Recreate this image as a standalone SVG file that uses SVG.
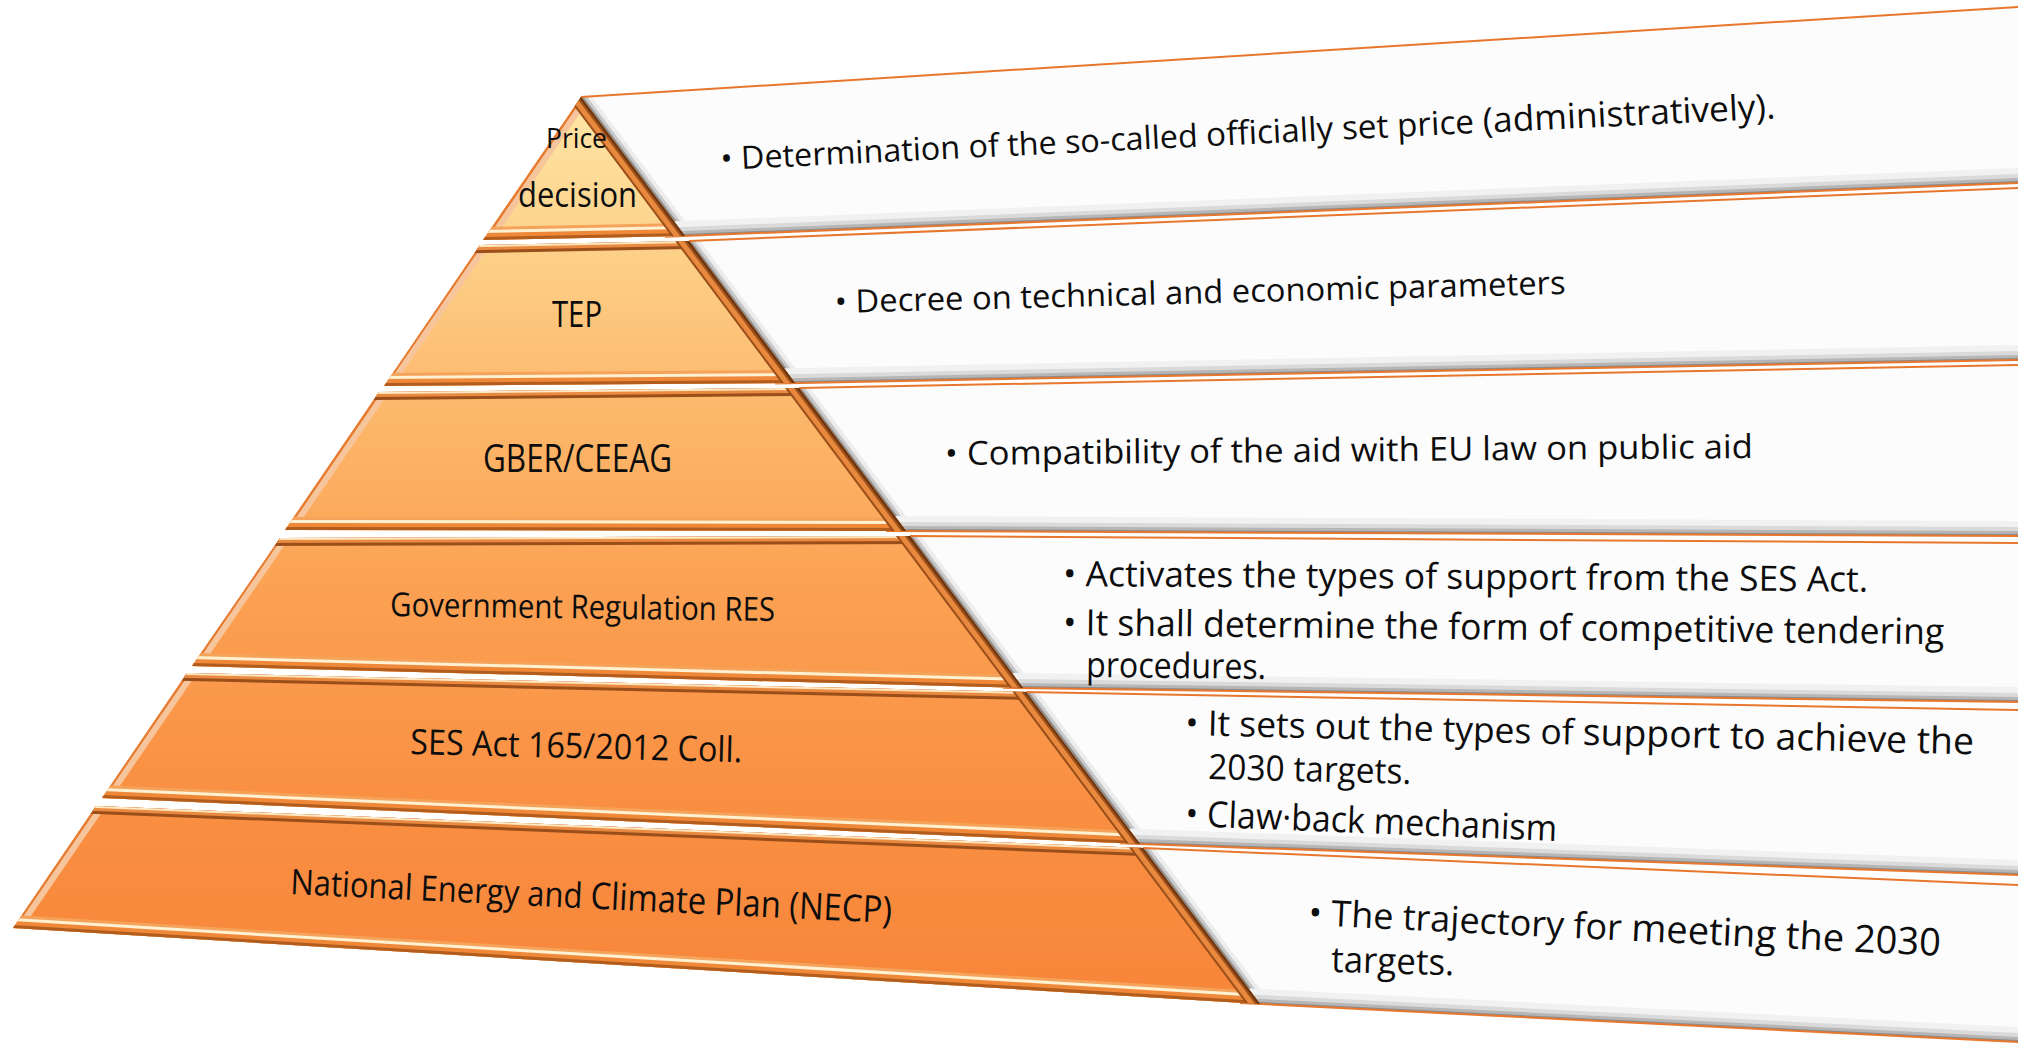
<svg xmlns="http://www.w3.org/2000/svg" width="2018" height="1051" viewBox="0 0 2018 1051">
<style>
text{font-family:"Open Sans","Noto Sans","DejaVu Sans",sans-serif;fill:#0d0d0d}
.face{fill:url(#pg)}
.box{fill:#fcfcfc}
.ol{fill:none;stroke:#e8772e;stroke-width:2}
.s1,.s2,.s3,.s4,.g1,.g2,.g3,.r1,.r2,.r3,.r4,.l1,.l2,.b1,.b2,.b3,.b4,.t1,.t2,.t3{fill:none}
.s1{stroke:#f1f1f1;stroke-width:30}
.s2{stroke:#dadada;stroke-width:18}
.s3{stroke:#b6b6b6;stroke-width:10}
.s4{stroke:#8c8c8c;stroke-width:4}
.g1{stroke:#ededed;stroke-width:18}
.g2{stroke:#c8c8c8;stroke-width:10}
.g3{stroke:#8f8f8f;stroke-width:4}
.r1{stroke:#9a4e1a;stroke-width:22}
.r2{stroke:#e8893e;stroke-width:18}
.r3{stroke:#a0531c;stroke-width:8}
.r4{stroke:#6b3510;stroke-width:4}
.l1{stroke:#f6c59b;stroke-width:16}
.l2{stroke:#e57a30;stroke-width:4}
.b1{stroke:#f5a35a;stroke-width:26}
.b2{stroke:#fff1d2;stroke-width:20}
.b3{stroke:#ef8838;stroke-width:14}
.b4{stroke:#b25c1d;stroke-width:6}
.t1{stroke:#9a4e1a;stroke-width:16}
.t2{stroke:#ea8a40;stroke-width:10}
.t3{stroke:#ffe9c4;stroke-width:4}
</style>
<defs>
<linearGradient id="pg" gradientUnits="userSpaceOnUse" x1="0" y1="97" x2="0" y2="1004">
<stop offset="0" stop-color="#ffe6a6"/>
<stop offset="0.15" stop-color="#fdd38c"/>
<stop offset="0.35" stop-color="#fcb76a"/>
<stop offset="0.55" stop-color="#fba052"/>
<stop offset="0.78" stop-color="#f98f42"/>
<stop offset="1" stop-color="#f7853a"/>
</linearGradient>
<path id="re" d="M566,77 L1275,1024"/>
<path id="le" d="M595,77 L0,947"/>
<clipPath id="c1"><polygon points="581,97 685,236 483,240"/></clipPath>
<clipPath id="c2"><polygon points="480,245 689,241 795,383 384,386"/></clipPath>
<clipPath id="c3"><polygon points="379,392 799,388 906,531 285,530"/></clipPath>
<clipPath id="c4"><polygon points="280,538 910,536 1023,688 192,666"/></clipPath>
<clipPath id="c5"><polygon points="187,673 1026,692 1140,844 102,798"/></clipPath>
<clipPath id="c6"><polygon points="96,806 1143,848 1260,1004 13,928"/></clipPath>
<clipPath id="k1"><polygon points="581,97 2030,6.2 2030,182.5 685,236"/></clipPath>
<clipPath id="k2"><polygon points="689,241 2030,187.5 2030,359.8 795,383"/></clipPath>
<clipPath id="k3"><polygon points="799,388 2030,364.8 2030,536.1 906,531"/></clipPath>
<clipPath id="k4"><polygon points="910,536 2030,543.1 2030,702.2 1023,688"/></clipPath>
<clipPath id="k5"><polygon points="1026,692 2030,710.2 2030,875.4 1140,844"/></clipPath>
<clipPath id="k6"><polygon points="1143,848 2030,885.5 2030,1042.6 1260,1004"/></clipPath>
<path id="bb1" d="M665,236.8 L2030,182.5"/>
<path id="bb2" d="M775,383.4 L2030,359.8"/>
<path id="bb3" d="M886,530.9 L2030,536.1"/>
<path id="bb4" d="M1003,687.7 L2030,702.2"/>
<path id="bb5" d="M1120,843.3 L2030,875.4"/>
<path id="bb6" d="M1240,1003 L2030,1042.6"/>
</defs>

<rect width="2018" height="1051" fill="#ffffff"/>

<!-- Text boxes -->
<g id="box-1">
<polygon class="box" points="581,97 2030,6.2 2030,182.5 685,236"/>
<g clip-path="url(#k1)"><use href="#re" class="g1"/><use href="#re" class="g2"/><use href="#re" class="g3"/><use href="#bb1" class="s1"/><use href="#bb1" class="s2"/><use href="#bb1" class="s3"/><use href="#bb1" class="s4"/></g>
<path class="ol" d="M581,97 L2030,6.2"/><use href="#bb1" class="ol"/>
<text x="721" y="170" textLength="1056" lengthAdjust="spacingAndGlyphs" transform="rotate(-2.8 721 170)"><tspan font-size="32">• Determination of the so-called </tspan><tspan font-size="33">officially set price </tspan><tspan font-size="35">(administratively).</tspan></text>
</g>
<g id="box-2">
<polygon class="box" points="689,241 2030,187.5 2030,359.8 795,383"/>
<g clip-path="url(#k2)"><use href="#re" class="g1"/><use href="#re" class="g2"/><use href="#re" class="g3"/><use href="#bb2" class="s1"/><use href="#bb2" class="s2"/><use href="#bb2" class="s3"/><use href="#bb2" class="s4"/></g>
<path class="ol" d="M689,241 L2030,187.5"/><use href="#bb2" class="ol"/>
<text x="835" y="313" font-size="32" textLength="731" lengthAdjust="spacingAndGlyphs" transform="rotate(-1.5 835 313)">• Decree on technical and economic parameters</text>
</g>
<g id="box-3">
<polygon class="box" points="799,388 2030,364.8 2030,536.1 906,531"/>
<g clip-path="url(#k3)"><use href="#re" class="g1"/><use href="#re" class="g2"/><use href="#re" class="g3"/><use href="#bb3" class="s1"/><use href="#bb3" class="s2"/><use href="#bb3" class="s3"/><use href="#bb3" class="s4"/></g>
<path class="ol" d="M799,388 L2030,364.8"/><use href="#bb3" class="ol"/>
<text x="945" y="465" font-size="33" textLength="808" lengthAdjust="spacingAndGlyphs" transform="rotate(-0.5 945 465)">• Compatibility of the aid with EU law on public aid</text>
</g>
<g id="box-4">
<polygon class="box" points="910,536 2030,543.1 2030,702.2 1023,688"/>
<g clip-path="url(#k4)"><use href="#re" class="g1"/><use href="#re" class="g2"/><use href="#re" class="g3"/><use href="#bb4" class="s1"/><use href="#bb4" class="s2"/><use href="#bb4" class="s3"/><use href="#bb4" class="s4"/></g>
<path class="ol" d="M910,536 L2030,543.1"/><use href="#bb4" class="ol"/>
<text x="1063" y="586" font-size="35" textLength="805" lengthAdjust="spacingAndGlyphs" transform="rotate(0.4 1063 586)">• Activates the types of support from the SES Act.</text>
<text x="1063" y="635" font-size="36" textLength="881" lengthAdjust="spacingAndGlyphs" transform="rotate(0.6 1063 635)">• It shall determine the form of competitive tendering</text>
<text x="1086" y="677" font-size="35" textLength="180" lengthAdjust="spacingAndGlyphs" transform="rotate(0.6 1086 677)">procedures.</text>
</g>
<g id="box-5">
<polygon class="box" points="1026,692 2030,710.2 2030,875.4 1140,844"/>
<g clip-path="url(#k5)"><use href="#re" class="g1"/><use href="#re" class="g2"/><use href="#re" class="g3"/><use href="#bb5" class="s1"/><use href="#bb5" class="s2"/><use href="#bb5" class="s3"/><use href="#bb5" class="s4"/></g>
<path class="ol" d="M1026,692 L2030,710.2"/><use href="#bb5" class="ol"/>
<text x="1185" y="735" textLength="789" lengthAdjust="spacingAndGlyphs" transform="rotate(1.4 1185 735)"><tspan font-size="35">• It sets out the types of </tspan><tspan font-size="37">support to achieve the</tspan></text>
<text x="1208" y="779" font-size="35" textLength="203" lengthAdjust="spacingAndGlyphs" transform="rotate(1.4 1208 779)">2030 targets.</text>
<text x="1185" y="826" font-size="36" textLength="372" lengthAdjust="spacingAndGlyphs" transform="rotate(2.3 1185 826)">• Claw·back mechanism</text>
</g>
<g id="box-6">
<polygon class="box" points="1143,848 2030,885.5 2030,1042.6 1260,1004"/>
<g clip-path="url(#k6)"><use href="#re" class="g1"/><use href="#re" class="g2"/><use href="#re" class="g3"/><use href="#bb6" class="s1"/><use href="#bb6" class="s2"/><use href="#bb6" class="s3"/><use href="#bb6" class="s4"/></g>
<path class="ol" d="M1143,848 L2030,885.5"/><use href="#bb6" class="ol"/>
<text x="1308" y="925" textLength="633" lengthAdjust="spacingAndGlyphs" transform="rotate(2.8 1308 925)"><tspan font-size="36">• The trajectory for </tspan><tspan font-size="38">meeting the 2030</tspan></text>
<text x="1331" y="972" font-size="36" textLength="123" lengthAdjust="spacingAndGlyphs" transform="rotate(1.5 1331 972)">targets.</text>
</g>

<!-- Pyramid tiers -->
<g id="tier-1">
<polygon class="face" points="581,97 685,236 483,240"/>
<g clip-path="url(#c1)">
<use href="#le" class="l1"/><use href="#le" class="l2"/>
<path class="b1" d="M453,240.6 L715,235.4"/><path class="b2" d="M453,240.6 L715,235.4"/><path class="b3" d="M453,240.6 L715,235.4"/><path class="b4" d="M453,240.6 L715,235.4"/>
<use href="#re" class="r1"/><use href="#re" class="r2"/><use href="#re" class="r3"/><use href="#re" class="r4"/>
</g>
<text x="546" y="148" font-size="28" textLength="61" lengthAdjust="spacingAndGlyphs">Price</text>
<text x="518" y="207" font-size="35" textLength="119" lengthAdjust="spacingAndGlyphs">decision</text>
</g>
<g id="tier-2">
<polygon class="face" points="480,245 689,241 795,383 384,386"/>
<g clip-path="url(#c2)">
<use href="#le" class="l1"/><use href="#le" class="l2"/>
<path class="t1" d="M450,245.6 L719,240.4"/><path class="t2" d="M450,245.6 L719,240.4"/><path class="t3" d="M450,245.6 L719,240.4"/>
<path class="b1" d="M354,386.2 L825,382.8"/><path class="b2" d="M354,386.2 L825,382.8"/><path class="b3" d="M354,386.2 L825,382.8"/><path class="b4" d="M354,386.2 L825,382.8"/>
<use href="#re" class="r1"/><use href="#re" class="r2"/><use href="#re" class="r3"/><use href="#re" class="r4"/>
</g>
<text x="552" y="327" font-size="36" textLength="50" lengthAdjust="spacingAndGlyphs">TEP</text>
</g>
<g id="tier-3">
<polygon class="face" points="379,392 799,388 906,531 285,530"/>
<g clip-path="url(#c3)">
<use href="#le" class="l1"/><use href="#le" class="l2"/>
<path class="t1" d="M349,392.3 L829,387.7"/><path class="t2" d="M349,392.3 L829,387.7"/><path class="t3" d="M349,392.3 L829,387.7"/>
<path class="b1" d="M255,530 L936,531"/><path class="b2" d="M255,530 L936,531"/><path class="b3" d="M255,530 L936,531"/><path class="b4" d="M255,530 L936,531"/>
<use href="#re" class="r1"/><use href="#re" class="r2"/><use href="#re" class="r3"/><use href="#re" class="r4"/>
</g>
<text x="483" y="472" font-size="38" textLength="189" lengthAdjust="spacingAndGlyphs">GBER/CEEAG</text>
</g>
<g id="tier-4">
<polygon class="face" points="280,538 910,536 1023,688 192,666"/>
<g clip-path="url(#c4)">
<use href="#le" class="l1"/><use href="#le" class="l2"/>
<path class="t1" d="M250,538.1 L940,535.9"/><path class="t2" d="M250,538.1 L940,535.9"/><path class="t3" d="M250,538.1 L940,535.9"/>
<path class="b1" d="M162,665.2 L1053,688.8"/><path class="b2" d="M162,665.2 L1053,688.8"/><path class="b3" d="M162,665.2 L1053,688.8"/><path class="b4" d="M162,665.2 L1053,688.8"/>
<use href="#re" class="r1"/><use href="#re" class="r2"/><use href="#re" class="r3"/><use href="#re" class="r4"/>
</g>
<text x="390" y="616" font-size="33" textLength="385" lengthAdjust="spacingAndGlyphs" transform="rotate(0.75 390 616)">Government Regulation RES</text>
</g>
<g id="tier-5">
<polygon class="face" points="187,673 1026,692 1140,844 102,798"/>
<g clip-path="url(#c5)">
<use href="#le" class="l1"/><use href="#le" class="l2"/>
<path class="t1" d="M157,672.3 L1056,692.7"/><path class="t2" d="M157,672.3 L1056,692.7"/><path class="t3" d="M157,672.3 L1056,692.7"/>
<path class="b1" d="M72,796.7 L1170,845.3"/><path class="b2" d="M72,796.7 L1170,845.3"/><path class="b3" d="M72,796.7 L1170,845.3"/><path class="b4" d="M72,796.7 L1170,845.3"/>
<use href="#re" class="r1"/><use href="#re" class="r2"/><use href="#re" class="r3"/><use href="#re" class="r4"/>
</g>
<text x="410" y="754" font-size="35" textLength="332" lengthAdjust="spacingAndGlyphs" transform="rotate(1.4 410 754)">SES Act 165/2012 Coll.</text>
</g>
<g id="tier-6">
<polygon class="face" points="96,806 1143,848 1260,1004 13,928"/>
<g clip-path="url(#c6)">
<use href="#le" class="l1"/><use href="#le" class="l2"/>
<path class="t1" d="M66,804.8 L1173,849.2"/><path class="t2" d="M66,804.8 L1173,849.2"/><path class="t3" d="M66,804.8 L1173,849.2"/>
<path class="b1" d="M-17,926.2 L1290,1005.8"/><path class="b2" d="M-17,926.2 L1290,1005.8"/><path class="b3" d="M-17,926.2 L1290,1005.8"/><path class="b4" d="M-17,926.2 L1290,1005.8"/>
<use href="#re" class="r1"/><use href="#re" class="r2"/><use href="#re" class="r3"/><use href="#re" class="r4"/>
</g>
<text x="290" y="894" textLength="602" lengthAdjust="spacingAndGlyphs" transform="rotate(2.76 290 894)"><tspan font-size="35">National Energy and </tspan><tspan font-size="37">Climate Plan (NECP)</tspan></text>
</g>

<g id="connectors"/>
</svg>
